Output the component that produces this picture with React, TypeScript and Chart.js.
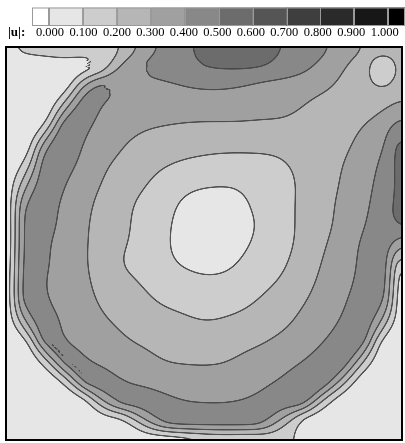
import React, { useEffect, useRef } from "react";
import { Chart, registerables } from "chart.js";

Chart.register(...registerables);

// ---- colour scale (|u| levels) ----
const levelEdges = [0, 0.1, 0.2, 0.3, 0.4, 0.5, 0.6, 0.7, 0.8, 0.9, 1.0];
const tickLabels = ["0.000", "0.100", "0.200", "0.300", "0.400", "0.500", "0.600", "0.700", "0.800", "0.900", "1.000"];
// [below 0, 10 bands, above 1]
const bandColors = ["#ffffff", "#e6e6e6", "#cdcdcd", "#b6b6b6", "#a0a0a0", "#888888", "#6c6c6c", "#555555", "#3e3e3e", "#2a2a2a", "#171717", "#000000"];
const legendTitle = "|u|:";

// ---- grid (21 x 21 nodes, row 0 = top wall) ----
const colIndex = [0, 1, 2, 3, 4, 5, 6, 7, 8, 9, 10, 11, 12, 13, 14, 15, 16, 17, 18, 19, 20];
const rowIndex = [0, 1, 2, 3, 4, 5, 6, 7, 8, 9, 10, 11, 12, 13, 14, 15, 16, 17, 18, 19, 20];

const row00 = [0.09, 0.13, 0.14, 0.17, 0.17, 0.16, 0.21, 0.33, 0.42, 0.48, 0.52, 0.55, 0.55, 0.53, 0.50, 0.47, 0.42, 0.37, 0.31, 0.22, 0.30];
const row01 = [0.04, 0.04, 0.05, 0.05, 0.06, 0.15, 0.34, 0.41, 0.45, 0.48, 0.50, 0.51, 0.51, 0.50, 0.47, 0.43, 0.37, 0.31, 0.23, 0.13, 0.21];
const row02 = [0.03, 0.03, 0.04, 0.05, 0.34, 0.43, 0.36, 0.37, 0.38, 0.40, 0.41, 0.41, 0.40, 0.375, 0.36, 0.34, 0.32, 0.28, 0.24, 0.18, 0.26];
const row03 = [0.03, 0.03, 0.03, 0.26, 0.46, 0.38, 0.36, 0.35, 0.35, 0.36, 0.36, 0.36, 0.35, 0.34, 0.33, 0.30, 0.27, 0.24, 0.23, 0.28, 0.33];
const row04 = [0.03, 0.03, 0.12, 0.47, 0.42, 0.36, 0.33, 0.31, 0.30, 0.29, 0.285, 0.285, 0.285, 0.28, 0.28, 0.27, 0.26, 0.26, 0.30, 0.36, 0.45];
const row05 = [0.03, 0.04, 0.37, 0.46, 0.39, 0.35, 0.30, 0.27, 0.25, 0.235, 0.225, 0.22, 0.22, 0.22, 0.225, 0.235, 0.25, 0.28, 0.33, 0.39, 0.54];
const row06 = [0.03, 0.14, 0.45, 0.43, 0.37, 0.31, 0.27, 0.235, 0.205, 0.185, 0.175, 0.17, 0.17, 0.175, 0.19, 0.225, 0.26, 0.30, 0.355, 0.42, 0.54];
const row07 = [0.03, 0.28, 0.46, 0.40, 0.34, 0.29, 0.247, 0.205, 0.16, 0.125, 0.11, 0.105, 0.11, 0.13, 0.165, 0.22, 0.26, 0.31, 0.37, 0.43, 0.53];
const row08 = [0.03, 0.40, 0.43, 0.38, 0.32, 0.27, 0.22, 0.175, 0.13, 0.085, 0.06, 0.06, 0.09, 0.13, 0.174, 0.219, 0.269, 0.322, 0.38, 0.44, 0.54];
const row09 = [0.02, 0.42, 0.43, 0.37, 0.31, 0.265, 0.215, 0.165, 0.115, 0.075, 0.04, 0.03, 0.07, 0.12, 0.17, 0.22, 0.27, 0.33, 0.39, 0.45, 0.53];
const row10 = [0.02, 0.42, 0.41, 0.36, 0.307, 0.258, 0.208, 0.16, 0.113, 0.07, 0.04, 0.045, 0.085, 0.13, 0.174, 0.225, 0.287, 0.35, 0.41, 0.45, 0.30];
const row11 = [0.03, 0.43, 0.41, 0.356, 0.305, 0.26, 0.19, 0.158, 0.117, 0.09, 0.07, 0.075, 0.113, 0.151, 0.189, 0.244, 0.305, 0.36, 0.415, 0.45, 0.10];
const row12 = [0.04, 0.44, 0.40, 0.357, 0.312, 0.27, 0.23, 0.19, 0.16, 0.135, 0.12, 0.125, 0.15, 0.18, 0.215, 0.268, 0.32, 0.372, 0.42, 0.44, 0.04];
const row13 = [0.04, 0.44, 0.41, 0.36, 0.322, 0.286, 0.253, 0.22, 0.19, 0.175, 0.165, 0.17, 0.185, 0.215, 0.254, 0.294, 0.341, 0.389, 0.44, 0.41, 0.02];
const row14 = [0.03, 0.30, 0.45, 0.376, 0.342, 0.308, 0.284, 0.262, 0.24, 0.218, 0.202, 0.21, 0.226, 0.25, 0.28, 0.325, 0.366, 0.41, 0.46, 0.28, 0.02];
const row15 = [0.03, 0.07, 0.45, 0.395, 0.37, 0.339, 0.308, 0.29, 0.275, 0.265, 0.26, 0.262, 0.275, 0.295, 0.327, 0.362, 0.398, 0.44, 0.44, 0.07, 0.02];
const row16 = [0.02, 0.03, 0.16, 0.45, 0.405, 0.378, 0.352, 0.326, 0.30, 0.293, 0.29, 0.295, 0.32, 0.347, 0.373, 0.40, 0.44, 0.47, 0.22, 0.03, 0.02];
const row17 = [0.02, 0.02, 0.03, 0.14, 0.45, 0.43, 0.395, 0.375, 0.36, 0.35, 0.345, 0.35, 0.365, 0.385, 0.41, 0.455, 0.485, 0.26, 0.03, 0.02, 0.02];
const row18 = [0.02, 0.02, 0.02, 0.03, 0.07, 0.33, 0.45, 0.44, 0.42, 0.398, 0.39, 0.39, 0.402, 0.42, 0.455, 0.47, 0.19, 0.03, 0.02, 0.02, 0.02];
const row19 = [0.02, 0.02, 0.02, 0.02, 0.03, 0.05, 0.09, 0.29, 0.44, 0.46, 0.46, 0.46, 0.46, 0.44, 0.26, 0.07, 0.03, 0.02, 0.02, 0.02, 0.02];
const row20 = [0.02, 0.02, 0.02, 0.02, 0.02, 0.02, 0.02, 0.02, 0.03, 0.06, 0.10, 0.12, 0.11, 0.12, 0.13, 0.06, 0.03, 0.02, 0.02, 0.02, 0.02];

const field = [row00, row01, row02, row03, row04, row05, row06, row07, row08, row09, row10,
  row11, row12, row13, row14, row15, row16, row17, row18, row19, row20];

type Node = { x: number; y: number; v: number };

const points: Node[] = [];
rowIndex.forEach((r, ri) => {
  colIndex.forEach((c, ci) => {
    points.push({ x: c, y: r, v: field[ri][ci] });
  });
});

function hexToRgb(h: string): number[] {
  const n = parseInt(h.slice(1), 16);
  return [(n >> 16) & 255, (n >> 8) & 255, n & 255];
}

function cr(p0: number, p1: number, p2: number, p3: number, t: number) {
  const t2 = t * t;
  const t3 = t2 * t;
  return 0.5 * (2 * p1 + (-p0 + p2) * t + (2 * p0 - 5 * p1 + 4 * p2 - p3) * t2 + (-p0 + 3 * p1 - 3 * p2 + p3) * t3);
}

function gaussBlur(src: Float32Array, w: number, h: number, sigma: number): Float32Array {
  const rad = Math.ceil(sigma * 3);
  const k: number[] = [];
  let s = 0;
  for (let i = -rad; i <= rad; i++) {
    const v = Math.exp(-(i * i) / (2 * sigma * sigma));
    k.push(v);
    s += v;
  }
  for (let i = 0; i < k.length; i++) k[i] /= s;
  const tmp = new Float32Array(w * h);
  const out = new Float32Array(w * h);
  for (let j = 0; j < h; j++) {
    for (let i = 0; i < w; i++) {
      let acc = 0;
      for (let q = -rad; q <= rad; q++) {
        const ii = Math.min(w - 1, Math.max(0, i + q));
        acc += src[j * w + ii] * k[q + rad];
      }
      tmp[j * w + i] = acc;
    }
  }
  for (let j = 0; j < h; j++) {
    for (let i = 0; i < w; i++) {
      let acc = 0;
      for (let q = -rad; q <= rad; q++) {
        const jj = Math.min(h - 1, Math.max(0, j + q));
        acc += tmp[jj * w + i] * k[q + rad];
      }
      out[j * w + i] = acc;
    }
  }
  return out;
}

// smoothing along iso-lines (keeps steep wall layers thin)
function tangentSmooth(src: Float32Array, w: number, h: number, sigma: number): Float32Array {
  const out = new Float32Array(w * h);
  const R = Math.ceil(sigma * 2.2);
  const wts: number[] = [];
  for (let s = -R; s <= R; s++) wts.push(Math.exp(-(s * s) / (2 * sigma * sigma)));
  const bil = (x: number, y: number) => {
    const xx = Math.min(w - 1.001, Math.max(0, x));
    const yy = Math.min(h - 1.001, Math.max(0, y));
    const i = Math.floor(xx), j = Math.floor(yy);
    const fx = xx - i, fy = yy - j;
    const a = src[j * w + i], b = src[j * w + i + 1];
    const c = src[(j + 1) * w + i], d = src[(j + 1) * w + i + 1];
    return (a * (1 - fx) + b * fx) * (1 - fy) + (c * (1 - fx) + d * fx) * fy;
  };
  for (let j = 0; j < h; j++) {
    for (let i = 0; i < w; i++) {
      const iL = Math.max(0, i - 2), iR = Math.min(w - 1, i + 2);
      const jU = Math.max(0, j - 2), jD = Math.min(h - 1, j + 2);
      const gx = (src[j * w + iR] - src[j * w + iL]) / Math.max(1, iR - iL);
      const gy = (src[jD * w + i] - src[jU * w + i]) / Math.max(1, jD - jU);
      const g = Math.sqrt(gx * gx + gy * gy);
      if (g < 1e-6) {
        out[j * w + i] = src[j * w + i];
        continue;
      }
      const tx = -gy / g, ty = gx / g;
      let acc = 0, ws = 0;
      for (let s = -R; s <= R; s++) {
        const wt = wts[s + R];
        acc += wt * bil(i + s * tx, j + s * ty);
        ws += wt;
      }
      out[j * w + i] = acc / ws;
    }
  }
  return out;
}

const contourPlugin = {
  id: "contourField",
  beforeDatasetsDraw(chart: any) {
    const { ctx, chartArea: a, scales } = chart;
    const xs = scales.x;
    const ys = scales.y;
    const data: Node[] = chart.data.datasets[0].data;
    const nc = colIndex.length;
    const nr = rowIndex.length;
    const G: number[][] = [];
    for (let r = 0; r < nr; r++) G.push(new Array(nc).fill(0));
    data.forEach((p) => {
      G[p.y][p.x] = p.v;
    });
    const gv = (r: number, c: number) => G[Math.min(nr - 1, Math.max(0, r))][Math.min(nc - 1, Math.max(0, c))];
    const sample = (gx: number, gy: number) => {
      const i = Math.min(nc - 2, Math.max(0, Math.floor(gx)));
      const j = Math.min(nr - 2, Math.max(0, Math.floor(gy)));
      const tx = Math.min(1, Math.max(0, gx - i));
      const ty = Math.min(1, Math.max(0, gy - j));
      const rv: number[] = [];
      for (let k = -1; k <= 2; k++) {
        rv.push(cr(gv(j + k, i - 1), gv(j + k, i), gv(j + k, i + 1), gv(j + k, i + 2), tx));
      }
      return cr(rv[0], rv[1], rv[2], rv[3], ty);
    };

    const L = Math.round(a.left);
    const T = Math.round(a.top);
    const w = Math.round(a.right) - L;
    const h = Math.round(a.bottom) - T;
    const raw = new Float32Array(w * h);
    const gxs = new Float32Array(w);
    for (let i = 0; i < w; i++) gxs[i] = xs.getValueForPixel(L + i + 0.5);
    for (let j = 0; j < h; j++) {
      const gy = ys.getValueForPixel(T + j + 0.5);
      for (let i = 0; i < w; i++) {
        raw[j * w + i] = Math.max(0.004, sample(gxs[i], gy));
      }
    }
    let vals = gaussBlur(raw, w, h, 2.2);
    vals = tangentSmooth(vals, w, h, 7);
    vals = tangentSmooth(vals, w, h, 6);
    const off = document.createElement("canvas");
    off.width = w;
    off.height = h;
    const octx = off.getContext("2d")!;
    const img = octx.createImageData(w, h);
    const rgb = bandColors.map(hexToRgb);
    const line = [68, 68, 68];
    const nb = levelEdges.length - 1;
    const lo = levelEdges[0];
    const hi = levelEdges[nb];
    const stepV = (hi - lo) / nb;
    for (let j = 0; j < h; j++) {
      for (let i = 0; i < w; i++) {
        const idx = j * w + i;
        const v = vals[idx];
        let band: number;
        if (v < lo) band = 0;
        else if (v >= hi) band = nb + 1;
        else band = Math.floor((v - lo) / stepV) + 1;
        const col = rgb[band];
        const iL = Math.max(0, i - 1), iR = Math.min(w - 1, i + 1);
        const jU = Math.max(0, j - 1), jD = Math.min(h - 1, j + 1);
        const dx = (vals[j * w + iR] - vals[j * w + iL]) / Math.max(1, iR - iL);
        const dy = (vals[jD * w + i] - vals[jU * w + i]) / Math.max(1, jD - jU);
        const g = Math.sqrt(dx * dx + dy * dy);
        const k = Math.round((v - lo) / stepV);
        let alpha = 0;
        if (k >= 1 && k <= nb && g > 0.0006) {
          const lev = lo + k * stepV;
          const d = Math.abs(v - lev) / g;
          alpha = Math.min(1, Math.max(0, (1.0 - d) / 0.6)) * 0.9;
        }
        const o = idx * 4;
        img.data[o] = col[0] * (1 - alpha) + line[0] * alpha;
        img.data[o + 1] = col[1] * (1 - alpha) + line[1] * alpha;
        img.data[o + 2] = col[2] * (1 - alpha) + line[2] * alpha;
        img.data[o + 3] = 255;
      }
    }
    octx.putImageData(img, 0, 0);
    ctx.save();
    ctx.drawImage(off, L, T);
    ctx.restore();
  },
  afterDraw(chart: any) {
    const { ctx, chartArea: a } = chart;
    ctx.save();
    // frame
    ctx.strokeStyle = "#000";
    ctx.lineWidth = 2;
    ctx.strokeRect(a.left, a.top, a.right - a.left, a.bottom - a.top);

    // colour bar
    const barTop = 7.5;
    const barH = 18.5;
    const startX = 32;
    const firstEdge = 49;
    const step = 33.93;
    const endX = 405;
    const nb = levelEdges.length - 1;
    const boxes: [number, number, string][] = [];
    boxes.push([startX, firstEdge, bandColors[0]]);
    for (let k = 0; k < nb; k++) {
      boxes.push([firstEdge + k * step, firstEdge + (k + 1) * step, bandColors[k + 1]]);
    }
    boxes.push([firstEdge + nb * step, endX, bandColors[nb + 1]]);
    boxes.forEach(([x0, x1, c]) => {
      ctx.fillStyle = c;
      ctx.fillRect(x0, barTop, x1 - x0, barH);
      ctx.strokeStyle = "#9a9a9a";
      ctx.lineWidth = 1;
      ctx.strokeRect(Math.round(x0) + 0.5, barTop + 0.5, Math.round(x1 - x0) - 1, barH - 1);
    });
    ctx.fillStyle = "#000";
    ctx.font = "12.5px 'Liberation Serif', 'DejaVu Serif', serif";
    ctx.textAlign = "center";
    ctx.textBaseline = "alphabetic";
    tickLabels.forEach((t, k) => {
      ctx.fillText(t, 50 + 33.47 * k, 36);
    });
    ctx.textAlign = "left";
    ctx.font = "bold 13px 'Liberation Serif', serif";
    ctx.fillText(legendTitle, 8, 36);
    ctx.restore();
  },
};

export default function App() {
  const ref = useRef<HTMLCanvasElement | null>(null);
  useEffect(() => {
    if (!ref.current) return;
    const chart = new Chart(ref.current, {
      type: "scatter",
      data: {
        datasets: [
          {
            data: points as any,
            pointRadius: 0,
            pointHoverRadius: 0,
          },
        ],
      },
      options: {
        responsive: false,
        animation: false,
        events: [],
        layout: { padding: { left: 6, right: 3, top: 47, bottom: 3 } },
        plugins: { legend: { display: false }, tooltip: { enabled: false } },
        scales: {
          x: { type: "linear", min: 0, max: 20, display: false },
          y: { type: "linear", min: 0, max: 20, reverse: true, display: false },
        },
      },
      plugins: [contourPlugin],
    });
    return () => chart.destroy();
  }, []);
  return (
    <div style={{ position: "fixed", left: 0, top: 0, width: 405, height: 443, background: "#fff" }}>
      <canvas ref={ref} width={405} height={443} style={{ display: "block" }} />
    </div>
  );
}
